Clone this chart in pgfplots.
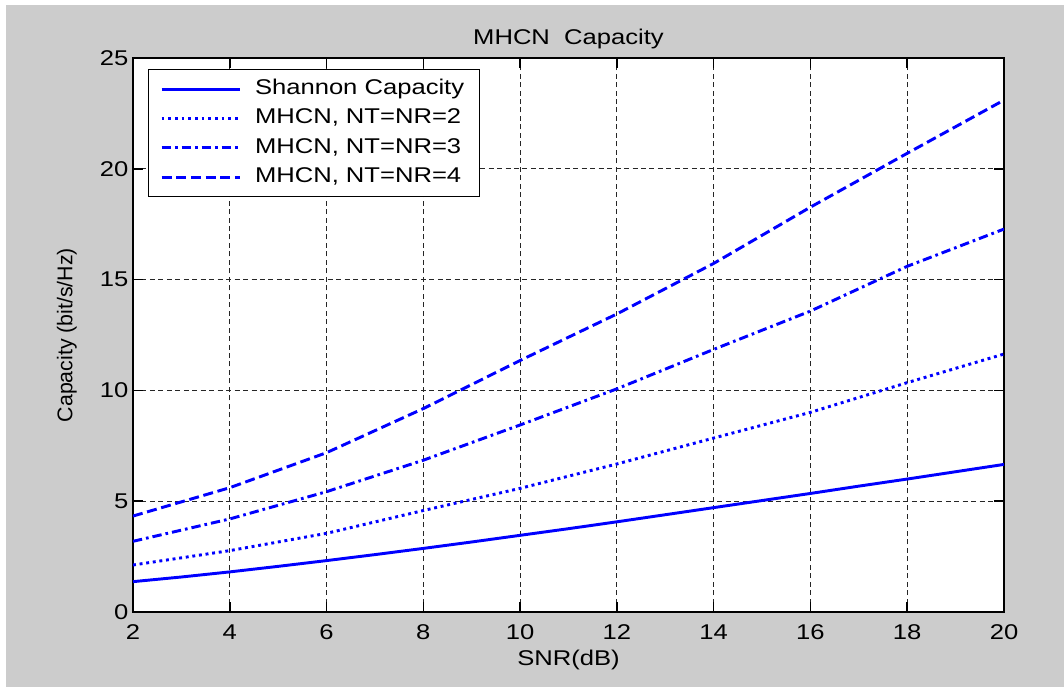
\documentclass[border=0pt]{standalone}
\usepackage{fontspec}
\usepackage{pgfplots}
\pgfplotsset{compat=1.18}
\setmainfont{Liberation Sans}
\newfontfamily\wfont[FakeStretch=1.2]{Liberation Sans}
\definecolor{figgray}{RGB}{204,204,204}
\definecolor{mblue}{RGB}{0,0,255}
\begin{document}
\begin{tikzpicture}
\useasboundingbox (-99.75pt,-56.25pt) rectangle (698.25pt,459pt);
\fill[white] (-99.75pt,-56.25pt) rectangle (698.25pt,459pt);
\fill[figgray] (-95.25pt,-56.25pt) rectangle (698.25pt,455.25pt);
\begin{axis}[
  at={(0pt,0pt)}, anchor=south west,
  scale only axis, width=653.25pt, height=415.5pt,
  xmin=2, xmax=20, ymin=0, ymax=25,
  xtick={2,4,...,20}, ytick={0,5,...,25},
  axis background/.style={fill=white},
  grid=major,
  major grid style={black!85, line width=0.8pt, dash pattern=on 3.75pt off 2.6pt},
  axis line style={black, line width=1.2pt},
  tick align=inside, major tick length=7.5pt,
  every tick/.style={black, line width=1.2pt},
  /pgf/number format/assume math mode=true,
  ticklabel style={font=\fontsize{16}{19}\wfont, black},
  xticklabel style={anchor=base, yshift=-20.5pt},
  xlabel={SNR(dB)},
  xlabel style={at={([yshift=-39.75pt]axis description cs:0.5,0)}, anchor=base, font=\fontsize{16}{19}\wfont},
  ylabel={Capacity (bit/s/Hz)},
  ylabel style={at={([xshift=-45.5pt]axis description cs:0,0.5)}, anchor=base, font=\fontsize{16}{19}\selectfont},
  title={MHCN\ \ Capacity},
  title style={at={([yshift=4pt]axis description cs:0.5,1)}, anchor=base, font=\fontsize{16}{19}\wfont},
  legend cell align=left,
  legend image code/.code={\draw[#1] (0pt,0pt) -- (58.5pt,0pt); \path (66pt,0pt);},
  legend style={at={(axis description cs:0.01722,0.9801)}, anchor=north west,
    draw=black, line width=1.1pt, fill=white, font=\fontsize{16}{19}\wfont,
    inner xsep=8.5pt, inner ysep=3.5pt,
    nodes={inner xsep=3pt, inner ysep=3pt, text height=12pt, text depth=4pt}},
]
\addplot[mblue, line width=2.2pt, solid] coordinates {
(2,1.37) (3,1.58) (4,1.81) (5,2.06) (6,2.32) (7,2.59) (8,2.87) (9,3.16) (10,3.46)
(11,3.76) (12,4.07) (13,4.39) (14,4.71) (15,5.03) (16,5.35) (17,5.68) (18,6.00) (19,6.33) (20,6.66)};
\addlegendentry{Shannon Capacity}
\addplot[mblue, line width=2.2pt, dash pattern=on 2.2pt off 2.8pt] coordinates {
(2,2.12) (4,2.77) (6,3.55) (8,4.58) (10,5.58) (12,6.68) (14,7.85) (16,9.01) (18,10.35) (20,11.64)};
\addlegendentry{MHCN, NT=NR=2}
\addplot[mblue, line width=2.2pt, dash pattern=on 7pt off 3pt on 2pt off 3pt] coordinates {
(2,3.19) (4,4.20) (6,5.43) (8,6.85) (10,8.44) (12,10.07) (14,11.85) (16,13.58) (18,15.60) (20,17.28)};
\addlegendentry{MHCN, NT=NR=3}
\addplot[mblue, line width=2.2pt, dash pattern=on 7.5pt off 3.5pt] coordinates {
(2,4.33) (4,5.61) (6,7.19) (8,9.18) (10,11.35) (12,13.45) (14,15.73) (16,18.27) (18,20.70) (20,23.10)};
\addlegendentry{MHCN, NT=NR=4}
\end{axis}
\end{tikzpicture}
\end{document}
